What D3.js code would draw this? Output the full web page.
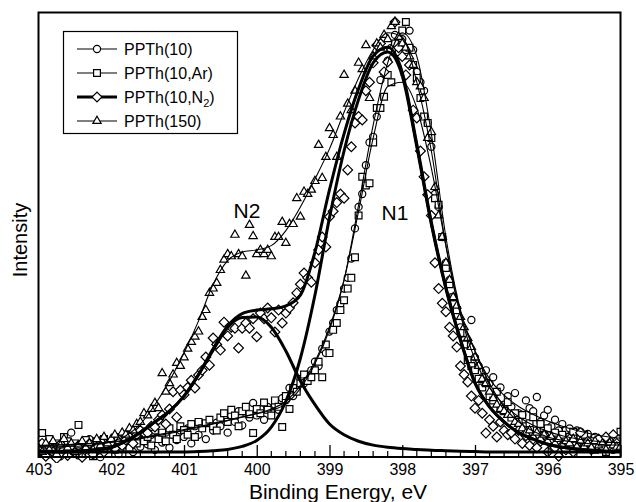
<!DOCTYPE html>
<html>
<head>
<meta charset="utf-8">
<title></title>
<style>
  body{ margin:0; background:#fff; font-family:"Liberation Sans", Arial, Helvetica, sans-serif }
  svg{ display:block }
</style>
<script src="https://d3js.org/d3.v7.min.js"></script>
</head>
<body>
<script>
// ---- data (intensity normalised) ----
const tickLabels = [403, 402, 401, 400, 399, 398, 397, 396, 395]
const seriesNames = ["PPTh(10)", "PPTh(10,Ar)", "PPTh(10,N2)", "PPTh(150)"]

// measured points: 403.00 -> 395.00 eV, every 0.05 eV
const scanStart = 403, scanStep = 0.05

const pts10 = [
  0.01, 0.02, -0.005, 0.03, 0.005, 0.015, -0.01, 0.025, 0.0, 0.045,
  0.012, -0.008, 0.02, 0.005, 0.03, 0.0, 0.018, -0.012, 0.022, 0.008,
  0.015, 0.028, -0.005, 0.02, 0.01, 0.035, 0.0, 0.025, 0.012, 0.03,
  0.018, 0.04, 0.005, 0.035, 0.022, 0.045, 0.01, 0.04, 0.028, 0.05,
  0.035, 0.055, 0.02, 0.06, 0.04, 0.065, 0.03, 0.07, 0.05, 0.068,
  0.06, 0.078, 0.045, 0.085, 0.07, 0.095, 0.062, 0.09, 0.08, 0.114,
  0.085, 0.1, 0.075, 0.105, 0.092, 0.11, 0.098, 0.125, 0.12, 0.149,
  0.13, 0.145, 0.17, 0.16, 0.18, 0.19, 0.21, 0.2, 0.24, 0.23,
  0.28, 0.3, 0.33, 0.345, 0.38, 0.405, 0.45, 0.52, 0.57, 0.6,
  0.667, 0.72, 0.733, 0.78, 0.865, 0.88, 0.91, 0.94, 0.97, 0.955,
  0.96, 0.935, 0.98, 0.935, 0.884, 0.86, 0.84, 0.765, 0.71, 0.6,
  0.57, 0.5, 0.44, 0.4, 0.36, 0.33, 0.29, 0.26, 0.25, 0.307,
  0.22, 0.2, 0.174, 0.19, 0.16, 0.174, 0.14, 0.15, 0.11, 0.13,
  0.105, 0.137, 0.09, 0.086, 0.12, 0.102, 0.095, 0.128, 0.07, 0.085,
  0.098, 0.06, 0.075, 0.05, 0.065, 0.051, 0.055, 0.035, 0.05, 0.047,
  0.03, 0.042, 0.02, 0.035, 0.025, 0.01, 0.03, 0.015, 0.005, 0.02,
  0.01
]
const ptsAr = [
  0.0, 0.044, 0.015, 0.03, -0.005, 0.02, 0.01, 0.035, 0.025, 0.005,
  0.02, 0.063, 0.0, 0.028, 0.012, -0.01, 0.025, 0.005, 0.03, 0.015,
  0.02, 0.005, 0.035, 0.015, 0.04, 0.01, 0.03, 0.02, 0.045, 0.025,
  0.035, 0.015, 0.05, 0.03, 0.045, 0.025, 0.055, 0.04, 0.03, 0.06,
  0.051, 0.04, 0.065, 0.035, 0.07, 0.055, 0.067, 0.075, 0.06, 0.05,
  0.08, 0.09, 0.07, 0.098, 0.085, 0.06, 0.095, 0.105, 0.088, 0.044,
  0.1, 0.09, 0.115, 0.098, 0.085, 0.12, 0.105, 0.058, 0.13, 0.1,
  0.149, 0.14, 0.16, 0.18, 0.165, 0.174, 0.19, 0.21, 0.174, 0.25,
  0.23, 0.284, 0.3, 0.33, 0.353, 0.38, 0.405, 0.453, 0.55, 0.64,
  0.62, 0.625, 0.72, 0.8, 0.8, 0.826, 0.877, 0.86, 0.95, 0.93,
  0.98, 1.0, 0.94, 0.9, 0.87, 0.823, 0.78, 0.765, 0.73, 0.59,
  0.575, 0.5, 0.428, 0.39, 0.36, 0.33, 0.277, 0.25, 0.214, 0.2,
  0.19, 0.17, 0.15, 0.16, 0.13, 0.12, 0.14, 0.1, 0.095, 0.116,
  0.08, 0.09, 0.07, 0.086, 0.06, 0.067, 0.081, 0.05, 0.065, 0.04,
  0.055, 0.03, 0.045, 0.025, 0.04, 0.02, 0.035, 0.047, 0.015, 0.03,
  0.04, 0.01, 0.025, 0.005, 0.02, 0.015, 0.0, 0.025, 0.01, 0.03,
  0.047
]
const ptsN2 = [
  0.005, 0.02, -0.01, 0.012, 0.0, -0.015, 0.018, 0.005, -0.008, 0.01,
  0.0, 0.015, -0.012, 0.008, 0.02, -0.005, 0.01, 0.025, 0.0, 0.015,
  0.02, 0.008, 0.03, 0.015, 0.028, 0.035, 0.02, 0.04, 0.05, 0.045,
  0.044, 0.06, 0.058, 0.075, 0.086, 0.065, 0.1, 0.14, 0.081, 0.144,
  0.133, 0.15, 0.167, 0.149, 0.179, 0.19, 0.221, 0.202, 0.265, 0.25,
  0.237, 0.302, 0.27, 0.29, 0.288, 0.242, 0.288, 0.3, 0.288, 0.31,
  0.268, 0.323, 0.31, 0.335, 0.312, 0.279, 0.33, 0.3, 0.323, 0.335,
  0.347, 0.37, 0.39, 0.416, 0.405, 0.395, 0.44, 0.47, 0.5, 0.477,
  0.547, 0.56, 0.58, 0.6, 0.59, 0.656, 0.71, 0.765, 0.78, 0.772,
  0.84, 0.86, 0.905, 0.946, 0.95, 0.884, 0.907, 0.935, 1.0, 0.94,
  0.92, 0.877, 0.9, 0.795, 0.777, 0.7, 0.64, 0.598, 0.55, 0.44,
  0.38, 0.346, 0.326, 0.29, 0.27, 0.244, 0.2, 0.18, 0.163, 0.13,
  0.102, 0.12, 0.09, 0.044, 0.075, 0.06, 0.035, 0.07, 0.05, 0.04,
  0.045, 0.03, 0.05, 0.02, 0.038, 0.015, 0.03, 0.01, 0.025, 0.04,
  0.0, 0.02, 0.01, -0.01, 0.015, 0.005, 0.03, 0.0, 0.02, 0.045,
  0.01, 0.025, 0.005, 0.02, 0.03, 0.012, 0.035, 0.015, 0.04, 0.02,
  0.01
]
const pts150 = [
  0.01, 0.0, 0.02, 0.005, 0.025, -0.005, 0.015, 0.03, 0.01, 0.02,
  0.0, 0.015, 0.025, 0.01, 0.02, 0.005, 0.03, 0.015, 0.035, 0.02,
  0.03, 0.04, 0.025, 0.045, 0.04, 0.055, 0.05, 0.065, 0.07, 0.09,
  0.085, 0.1, 0.114, 0.102, 0.183, 0.14, 0.16, 0.18, 0.207, 0.2,
  0.22, 0.24, 0.256, 0.268, 0.28, 0.314, 0.33, 0.37, 0.38, 0.393,
  0.423, 0.447, 0.46, 0.455, 0.505, 0.46, 0.455, 0.41, 0.528, 0.502,
  0.46, 0.47, 0.46, 0.47, 0.455, 0.5, 0.5, 0.535, 0.486, 0.53,
  0.53, 0.59, 0.547, 0.605, 0.6, 0.61, 0.63, 0.714, 0.637, 0.686,
  0.753, 0.737, 0.686, 0.78, 0.877, 0.81, 0.795, 0.84, 0.905, 0.89,
  0.946, 0.823, 0.92, 0.95, 0.94, 0.97, 0.96, 0.99, 1.0, 0.965,
  0.95, 0.94, 0.92, 0.9, 0.86, 0.85, 0.823, 0.73, 0.744, 0.616,
  0.55, 0.5, 0.44, 0.4, 0.36, 0.34, 0.314, 0.29, 0.265, 0.244,
  0.22, 0.2, 0.17, 0.16, 0.14, 0.125, 0.11, 0.1, 0.095, 0.086,
  0.086, 0.07, 0.065, 0.055, 0.044, 0.05, 0.035, 0.045, 0.03, 0.04,
  0.025, 0.035, 0.02, 0.03, 0.015, 0.025, 0.02, 0.03, 0.012, 0.025,
  0.012, 0.02, 0.01, 0.025, 0.015, 0.02, 0.005, 0.021, 0.015, 0.012,
  0.012
]

// fitted curves: 403.0 -> 395.0 eV, every 0.2 eV
const fitStep = 0.2
const fit10 = [
  0.015, 0.016, 0.017, 0.018, 0.02, 0.022, 0.026, 0.031, 0.037, 0.043,
  0.05, 0.057, 0.065, 0.073, 0.081, 0.089, 0.097, 0.112, 0.148, 0.205,
  0.285, 0.40, 0.575, 0.76, 0.905, 0.975, 0.92, 0.74, 0.50, 0.33,
  0.235, 0.17, 0.132, 0.106, 0.087, 0.072, 0.06, 0.05, 0.042, 0.036,
  0.032
]
const fitAr = [
  0.015, 0.016, 0.017, 0.019, 0.021, 0.024, 0.028, 0.033, 0.039, 0.045,
  0.052, 0.059, 0.066, 0.074, 0.082, 0.09, 0.1, 0.118, 0.155, 0.21,
  0.29, 0.40, 0.56, 0.73, 0.85, 0.86, 0.80, 0.66, 0.48, 0.32,
  0.215, 0.15, 0.11, 0.082, 0.062, 0.048, 0.038, 0.031, 0.026, 0.023,
  0.022
]
const fitN2total = [
  0.002, 0.002, 0.002, 0.003, 0.006, 0.011, 0.026, 0.046, 0.07, 0.095,
  0.13, 0.18, 0.24, 0.293, 0.322, 0.33, 0.333, 0.34, 0.365, 0.465,
  0.61, 0.74, 0.845, 0.921, 0.941, 0.883, 0.716, 0.534, 0.383, 0.262,
  0.161, 0.105, 0.07, 0.045, 0.03, 0.018, 0.011, 0.007, 0.004, 0.002,
  0.001
]
const fit150 = [
  0.012, 0.012, 0.013, 0.014, 0.017, 0.024, 0.038, 0.065, 0.11, 0.165,
  0.23, 0.305, 0.39, 0.445, 0.465, 0.47, 0.48, 0.515, 0.57, 0.635,
  0.705, 0.79, 0.87, 0.935, 0.975, 0.965, 0.86, 0.70, 0.48, 0.32,
  0.235, 0.16, 0.105, 0.07, 0.048, 0.035, 0.027, 0.022, 0.019, 0.017,
  0.016
]
const peakN1 = [
  0.0, 0.0, 0.0, 0.0, 0.0, 0.0, 0.0, 0.0, 0.0, 0.0,
  0.0, 0.001, 0.003, 0.006, 0.013, 0.027, 0.058, 0.118, 0.218, 0.365,
  0.545, 0.70, 0.82, 0.905, 0.93, 0.875, 0.71, 0.53, 0.38, 0.26,
  0.16, 0.105, 0.07, 0.045, 0.03, 0.018, 0.011, 0.007, 0.004, 0.002,
  0.001
]
const peakN2 = [
  0.0, 0.0, 0.0, 0.002, 0.005, 0.01, 0.025, 0.045, 0.07, 0.095,
  0.13, 0.18, 0.237, 0.29, 0.313, 0.314, 0.29, 0.235, 0.165, 0.11,
  0.065, 0.04, 0.025, 0.016, 0.011, 0.008, 0.006, 0.004, 0.003, 0.002,
  0.001, 0.0, 0.0, 0.0, 0.0, 0.0, 0.0, 0.0, 0.0, 0.0,
  0.0
]

// ---- layout ----
const W = 636, H = 502
const frame = { left: 38.5, right: 620.5, top: 12.5, bottom: 457 }

const svg = d3.select("body").append("svg")
  .attr("width", W).attr("height", H)

const x = d3.scaleLinear().domain([403, 395]).range([frame.left, frame.right])
const y = d3.scaleLinear().domain([0, 1]).range([452, 22])

const withE = (arr, step) => arr.map((v, i) => [scanStart - i * step, v])

// clip so marks stay inside the box
svg.append("clipPath").attr("id", "clip")
  .append("rect")
  .attr("x", frame.left).attr("y", frame.top)
  .attr("width", frame.right - frame.left).attr("height", frame.bottom - frame.top + 6)

const plot = svg.append("g").attr("clip-path", "url(#clip)")

// marker shapes
const shapes = {
  circle:   d3.symbol().type(d3.symbolCircle).size(40)(),
  square:   d3.symbol().type(d3.symbolSquare).size(46)(),
  diamond:  d3.symbol().type(d3.symbolSquare).size(48)(),
  triangle: d3.symbol().type(d3.symbolTriangle).size(30)()
}

const scatter = [
  { pts: pts10,  shape: "circle",   rot: 0 },
  { pts: ptsAr,  shape: "square",   rot: 0 },
  { pts: ptsN2,  shape: "diamond",  rot: 45 },
  { pts: pts150, shape: "triangle", rot: 0 }
]

scatter.forEach(function(s){
  plot.append("g")
    .selectAll("path")
    .data(withE(s.pts, scanStep))
    .enter()
    .append("path")
    .attr("d", shapes[s.shape])
    .attr("transform", d => `translate(${x(d[0])},${y(d[1])}) rotate(${s.rot})`)
    .attr("fill", "#fff")
    .attr("stroke", "#000")
    .attr("stroke-width", 1.2)
})

const line = d3.line()
  .x(d => x(d[0]))
  .y(d => y(d[1]))
  .curve(d3.curveMonotoneX)

const fits = [
  { v: fit10,      w: 1.1 },
  { v: fitAr,      w: 1.1 },
  { v: fit150,     w: 1.1 },
  { v: peakN2,     w: 3 },
  { v: peakN1,     w: 3 },
  { v: fitN2total, w: 3 }
]

fits.forEach(function(f){
  plot.append("path")
    .datum(withE(f.v, fitStep))
    .attr("d", line)
    .attr("fill", "none")
    .attr("stroke", "#000")
    .attr("stroke-width", f.w)
    .attr("stroke-linejoin", "round")
})

// frame
svg.append("rect")
  .attr("x", frame.left).attr("y", frame.top)
  .attr("width", frame.right - frame.left)
  .attr("height", frame.bottom - frame.top)
  .attr("fill", "none")
  .attr("stroke", "#000")
  .attr("stroke-width", 2)

// x axis: major ticks every eV, minor every 0.2 eV, pointing inwards
const xAxis = d3.axisBottom(x)
  .tickValues(tickLabels)
  .tickFormat(d3.format("d"))
  .tickSizeInner(-12)
  .tickSizeOuter(0)
  .tickPadding(7)

const gx = svg.append("g")
  .attr("transform", `translate(0,${frame.bottom})`)
  .call(xAxis)
gx.select(".domain").remove()
gx.selectAll(".tick line").attr("stroke", "#000").attr("stroke-width", 1.3)
gx.selectAll("text")
  .attr("font-size", "16px")
  .attr("font-family", "Liberation Sans, Arial, sans-serif")
  .attr("fill", "#000")

const minor = d3.range(403, 394.99, -0.2).filter(v => Math.abs(v - Math.round(v)) > 0.01)
svg.append("g")
  .selectAll("line")
  .data(minor)
  .enter()
  .append("line")
  .attr("x1", d => x(d)).attr("x2", d => x(d))
  .attr("y1", frame.bottom).attr("y2", frame.bottom - 6)
  .attr("stroke", "#000").attr("stroke-width", 1.2)

// axis titles
svg.append("text")
  .text("Binding Energy, eV")
  .attr("x", 338).attr("y", 499)
  .attr("text-anchor", "middle")
  .attr("font-size", "21px")

svg.append("text")
  .text("Intensity")
  .attr("transform", "translate(27,240) rotate(-90)")
  .attr("text-anchor", "middle")
  .attr("font-size", "20px")

// peak labels
svg.append("text").text("N2")
  .attr("x", 247).attr("y", 218)
  .attr("text-anchor", "middle").attr("font-size", "21px")
svg.append("text").text("N1")
  .attr("x", 395).attr("y", 220)
  .attr("text-anchor", "middle").attr("font-size", "21px")

// legend
const legend = svg.append("g")
legend.append("rect")
  .attr("x", 63.5).attr("y", 31.5)
  .attr("width", 174).attr("height", 102)
  .attr("fill", "#fff")
  .attr("stroke", "#000")
  .attr("stroke-width", 1.2)

const legendRows = [
  { shape: "circle",   rot: 0,  w: 1.1 },
  { shape: "square",   rot: 0,  w: 1.1 },
  { shape: "diamond",  rot: 45, w: 3 },
  { shape: "triangle", rot: 0,  w: 1.1 }
]

const rows = legend.selectAll("g.row")
  .data(legendRows)
  .enter()
  .append("g")
  .attr("class", "row")
  .attr("transform", (d, i) => `translate(0,${49 + i * 24})`)

rows.append("line")
  .attr("x1", 77).attr("x2", 117)
  .attr("stroke", "#000")
  .attr("stroke-width", d => d.w)

rows.append("path")
  .attr("d", d => shapes[d.shape])
  .attr("transform", d => `translate(97,0) rotate(${d.rot})`)
  .attr("fill", "#fff")
  .attr("stroke", "#000")
  .attr("stroke-width", 1.2)

const labels = rows.append("text")
  .attr("x", 124).attr("y", 6)
  .attr("font-size", "16px")

labels.each(function(d, i){
  const t = d3.select(this)
  const name = seriesNames[i]
  if (name.endsWith("N2)")) {
    t.append("tspan").text(name.slice(0, -2))
    t.append("tspan").text("2").attr("font-size", "11px").attr("dy", 4)
    t.append("tspan").text(")").attr("dy", -4)
  } else {
    t.text(name)
  }
})
</script>
</body>
</html>
